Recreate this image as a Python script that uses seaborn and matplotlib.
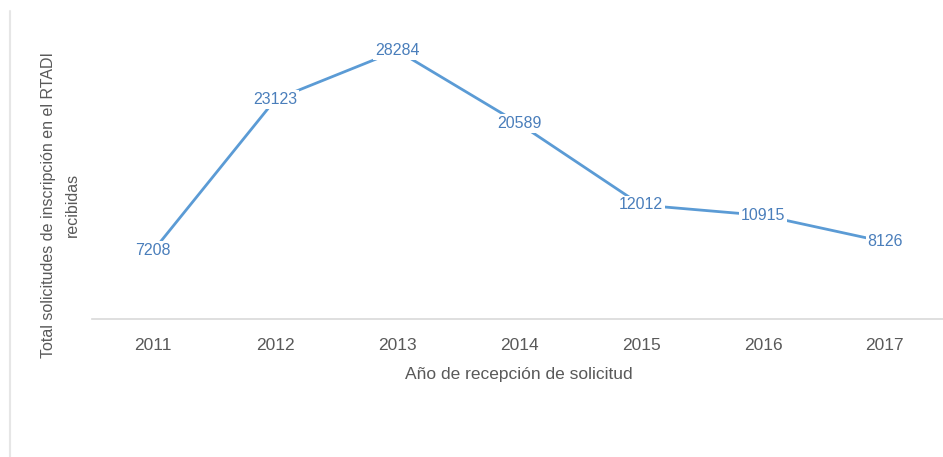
import matplotlib
matplotlib.use("Agg")
import matplotlib.pyplot as plt
import seaborn as sns
import pandas as pd
from matplotlib.lines import Line2D

years = ["2011", "2012", "2013", "2014", "2015", "2016", "2017"]
values = [7208, 23123, 28284, 20589, 12012, 10915, 8126]
x_label = "Año de recepción de solicitud"
y_label = "Total solicitudes de inscripción en el RTADI\nrecibidas"

sns.set_theme(style="white")
plt.rcParams["font.family"] = ["Liberation Sans", "DejaVu Sans"]

df = pd.DataFrame({"year": years, "value": values})

fig = plt.figure(figsize=(9.43, 4.57), dpi=100)
ax = fig.add_axes([0.098, 0.302, 0.905, 0.623])

line_color = "#5B9BD5"
label_color = "#4A7EBB"

sns.lineplot(data=df, x="year", y="value", ax=ax, color=line_color,
             linewidth=2, sort=False)

for i, v in enumerate(values):
    ax.text(i, v, str(v), ha="center", va="center", fontsize=11.5,
            color=label_color,
            bbox=dict(boxstyle="square,pad=0.1", fc="white", ec="none"),
            zorder=5)

ax.set_xlim(-0.5, len(years) - 0.5)
ax.set_ylim(0, 30000)
ax.set_yticks([])
for s in ["top", "right", "left"]:
    ax.spines[s].set_visible(False)
ax.spines["bottom"].set_color("#D9D9D9")
ax.spines["bottom"].set_linewidth(1.2)
ax.tick_params(axis="x", length=0, pad=14, labelsize=12.5, labelcolor="#595959")
ax.set_xlabel(x_label, fontsize=12.5, color="#595959", labelpad=10)
ax.set_ylabel("")

fig.text(0.064, 0.551, y_label, rotation=90, ha="center", va="center",
         fontsize=11.5, color="#595959", linespacing=1.7, multialignment="center")

# faint frame line at left edge
fig.add_artist(Line2D([0.011, 0.011], [0.0, 0.975], transform=fig.transFigure,
                      color="#E6E6E6", linewidth=1.5))

fig.savefig("out.png", dpi=100)
